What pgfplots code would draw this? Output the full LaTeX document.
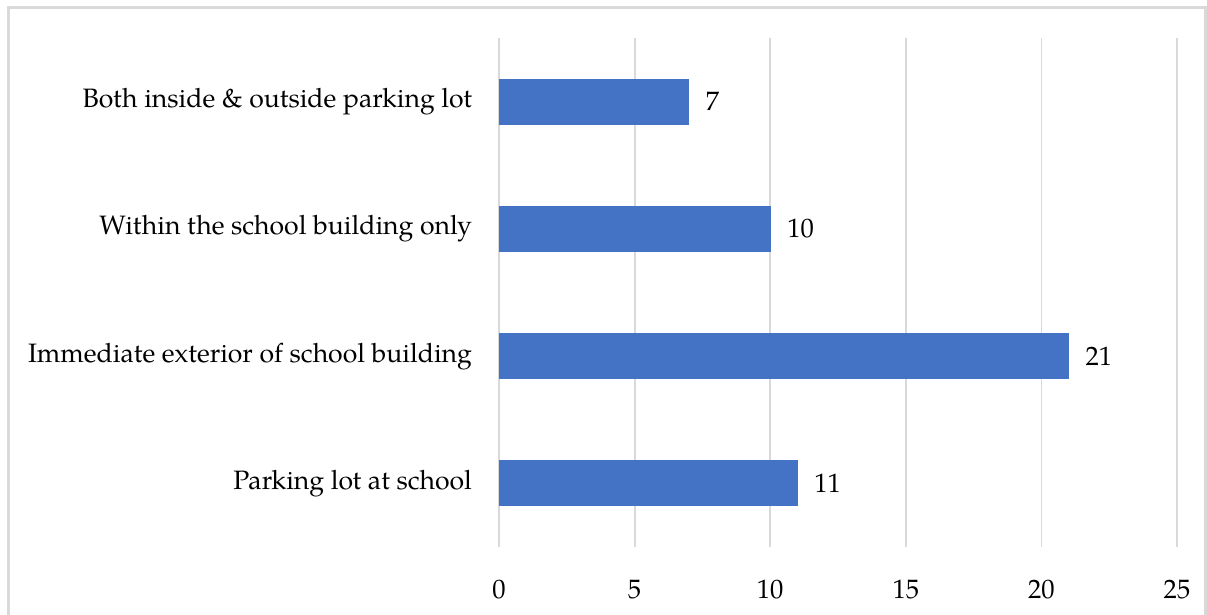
\documentclass[border=0pt]{standalone}
\usepackage{pgfplots}
\pgfplotsset{compat=1.18}
\usepackage{fontspec}
\setmainfont{TeX Gyre Pagella}
\definecolor{barblue}{HTML}{4472C4}
\definecolor{gridgray}{HTML}{D9D9D9}
\begin{document}
\begin{tikzpicture}[x=1bp,y=1bp]
\useasboundingbox (0,0) rectangle (603.5,307);
\draw[gridgray, line width=1.5bp] (4,-5) -- (4,303) -- (602.5,303) -- (602.5,-5);
\begin{axis}[
  at={(249.5bp,33.5bp)}, anchor=south west,
  scale only axis, width=339bp, height=254.5bp,
  xbar, bar width=22.5bp,
  xmin=0, xmax=25, ymin=-0.5, ymax=3.5,
  xtick={0,5,10,15,20,25},
  ytick={0,1,2,3},
  yticklabels={Parking lot at school, Immediate exterior of school building, Within the school building only, Both inside \& outside parking lot},
  axis line style={draw=none},
  major tick length=0pt,
  xmajorgrids, grid style={gridgray, line width=0.9bp},
  tick label style={font=\fontsize{13.3bp}{15bp}\selectfont},
  /pgf/number format/assume math mode=true,
  xticklabel style={yshift=-13bp},
  yticklabel style={xshift=-10bp},
  nodes near coords,
  nodes near coords style={font=\fontsize{13.3bp}{15bp}\selectfont, anchor=west, xshift=5bp, black},
  clip=false,
]
\addplot[fill=barblue, draw=barblue] coordinates {(11,0) (21,1) (10,2) (7,3)};
\end{axis}
\end{tikzpicture}
\end{document}
